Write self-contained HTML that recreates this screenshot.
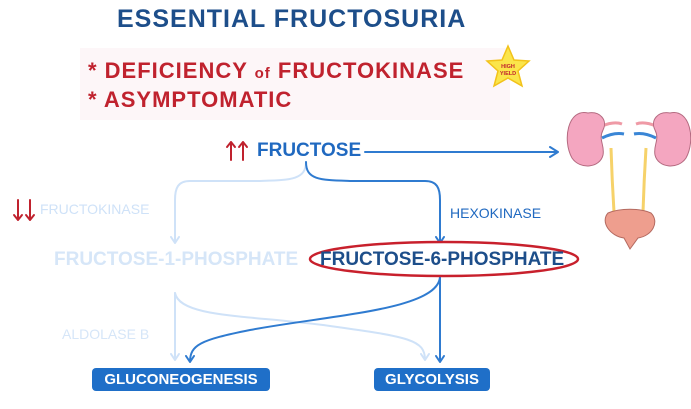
<!DOCTYPE html>
<html><head><style>
body{margin:0;background:#fff;}
#c{position:relative;width:691px;height:409px;overflow:hidden;font-family:"Liberation Sans",sans-serif;}
.t{position:absolute;white-space:nowrap;font-weight:bold;}
</style></head><body><div id="c">
<div style="position:absolute;left:80px;top:48px;width:430px;height:72px;background:#fdf6f8"></div>
<div class="t" style="left:117px;top:5px;font-size:25px;color:#1d4e8a;letter-spacing:1px">ESSENTIAL FRUCTOSURIA</div>
<div class="t" style="left:88px;top:58px;font-size:22px;color:#c0222e;letter-spacing:1px">* DEFICIENCY <span style="font-size:15px">of</span> FRUCTOKINASE</div>
<div class="t" style="left:88px;top:87px;font-size:22px;color:#c0222e;letter-spacing:1px">* ASYMPTOMATIC</div>
<svg style="position:absolute;left:0;top:0" width="691" height="409">
<polygon points="508,46 514,60 529,61 518,71 522,86 508,78 494,86 498,71 487,61 502,60" fill="#fbe54a" stroke="#f2c21a" stroke-width="1.5"/>
<text x="508" y="68" font-size="5.5" font-weight="bold" fill="#c0222e" text-anchor="middle" font-family="Liberation Sans">HIGH</text>
<text x="508" y="75" font-size="5.5" font-weight="bold" fill="#c0222e" text-anchor="middle" font-family="Liberation Sans">YIELD</text>
<g fill="none" stroke-width="2" stroke-linecap="round" stroke-linejoin="round">
<path d="M365,152 L558,152 M550,147 L558,152 L550,157" stroke="#2f7bd0"/>
<path d="M306,162 C306,180 290,180 260,181 L190,181 C178,181 175,188 175,200 L175,243 M171,237 L175,243 L179,237" stroke="#cfe2f8"/>
<path d="M306,162 C306,180 320,180 350,181 L425,181 C437,181 440,188 440,200 L440,243 M436,237 L440,243 L444,237" stroke="#2f7bd0"/>
<path d="M175,293 L175,360 M171,354 L175,360 L179,354" stroke="#cfe2f8"/>
<path d="M175,293 C180,318 250,315 330,326 C410,337 425,340 425,360 M421,354 L425,360 L429,354" stroke="#cfe2f8"/>
<path d="M440,276 L440,362 M436,356 L440,362 L444,356" stroke="#2f7bd0"/>
<path d="M440,276 C440,310 330,315 250,330 C200,340 190,345 190,362 M186,356 L190,362 L194,356" stroke="#2f7bd0"/>
<path d="M231,160 L231,142 M227,147 L231,142 L235,147 M243,160 L243,142 M239,147 L243,142 L247,147" stroke="#c0222e"/>
<path d="M18,200 L18,220 M14,215 L18,220 L22,215 M30,200 L30,220 M26,215 L30,220 L34,215" stroke="#c0222e"/>
</g>
<ellipse cx="444" cy="259" rx="134" ry="17" fill="#fff" stroke="#c8202c" stroke-width="2.5"/>
<!-- kidneys -->
<path d="M611,148 Q612,180 614,212 M646,148 Q644,180 643,212" stroke="#f6d26a" stroke-width="3" fill="none"/>
<path d="M602,126 Q614,121 622,124 M656,126 Q644,121 636,124" stroke="#ef9aa6" stroke-width="3" fill="none"/>
<path d="M602,138 Q614,132 624,134 M656,138 Q644,132 634,134" stroke="#3a86d6" stroke-width="3" fill="none"/>
<path d="M588,113 C568,108 562,140 572,158 C580,170 600,168 603,155 C605,145 598,140 603,130 C608,120 600,111 588,113Z" fill="#f4a6c0" stroke="#b46a80" stroke-width="1"/>
<path d="M670,113 C690,108 696,140 686,158 C678,170 658,168 655,155 C653,145 660,140 655,130 C650,120 658,111 670,113Z" fill="#f4a6c0" stroke="#b46a80" stroke-width="1"/>
<path d="M608,213 C620,208 640,208 651,213 C660,222 652,236 638,238 L630,249 L624,238 C610,236 600,222 608,213Z" fill="#ee9e8e" stroke="#b46a60" stroke-width="1"/>
</svg>
<div class="t" style="left:257px;top:140px;font-size:19px;color:#2069c0">FRUCTOSE</div>
<div class="t" style="left:40px;top:201px;font-size:14px;color:#cfe2f8;font-weight:normal">FRUCTOKINASE</div>
<div class="t" style="left:450px;top:205px;font-size:14px;color:#2069c0;font-weight:normal">HEXOKINASE</div>
<div class="t" style="left:54px;top:249px;font-size:19px;color:#d6e6f8">FRUCTOSE-1-PHOSPHATE</div>
<div class="t" style="left:320px;top:249px;font-size:19px;color:#1d4e8a">FRUCTOSE-6-PHOSPHATE</div>
<div class="t" style="left:62px;top:326px;font-size:14px;color:#d6e6f8;font-weight:normal">ALDOLASE B</div>
<div class="t" style="left:92px;top:368px;width:178px;height:23px;background:#1f6fc8;border-radius:4px;color:#fff;font-size:15px;text-align:center;line-height:23px">GLUCONEOGENESIS</div>
<div class="t" style="left:374px;top:368px;width:116px;height:23px;background:#1f6fc8;border-radius:4px;color:#fff;font-size:15px;text-align:center;line-height:23px">GLYCOLYSIS</div>
</div></body></html>
